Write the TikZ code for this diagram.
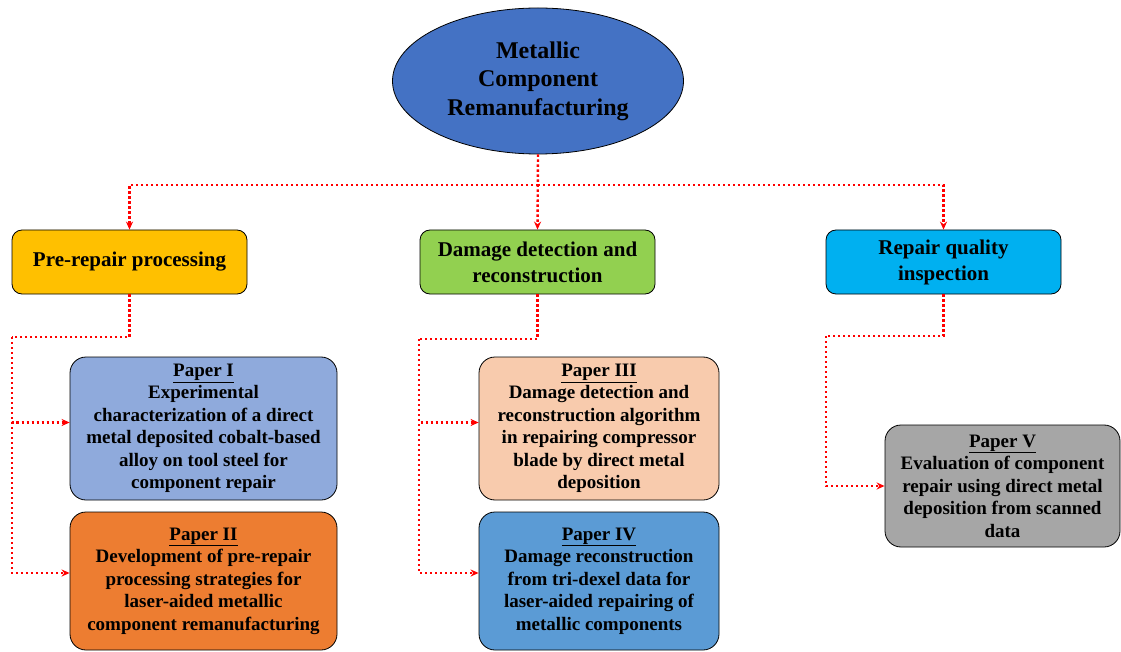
\documentclass[tikz,border=0pt]{standalone}
\usepackage{fontspec}
\setmainfont{Liberation Serif}[BoldFont={Liberation Serif Bold}]
\usepackage{tikz}
\usetikzlibrary{arrows.meta,shapes.geometric}

\definecolor{rootblue}{HTML}{4472C4}
\definecolor{preyellow}{HTML}{FFC000}
\definecolor{dmggreen}{HTML}{92D050}
\definecolor{rqicyan}{HTML}{00B0F0}
\definecolor{paperone}{HTML}{8FAADC}
\definecolor{papertwo}{HTML}{ED7D31}
\definecolor{paperthree}{HTML}{F8CBAD}
\definecolor{paperfour}{HTML}{5B9BD5}
\definecolor{paperfive}{HTML}{A6A6A6}

\begin{document}
\begin{tikzpicture}[
    x = 1pt, y = -1pt, % one unit is one pixel of the layout
    >= {Stealth[length=8pt,width=7pt]}, % arrow head style
    semithick % line style
  ]

  \tikzstyle{theme}=[
      draw = black,
      thick,
      rounded corners = 10pt,
      align = center,
      font = \bfseries\fontsize{21}{26}\selectfont
  ]
  \tikzstyle{paper}=[
      draw = black,
      thick,
      rounded corners = 16pt,
      align = center,
      font = \bfseries\fontsize{19}{22.5}\selectfont
  ]
  \tikzstyle{link}=[
      red,
      line width = 2.4pt,
      dash pattern = on 2.4pt off 2.6pt
  ]

  \useasboundingbox (0,0) rectangle (1121,652);

\node[ellipse,draw=black,thick,fill=rootblue,minimum width=291pt,minimum height=146pt,
      align=center,font=\bfseries\fontsize{24}{28.5}\selectfont] (root) at (538,81)
      {Metallic\\Component\\Remanufacturing};

\node[theme,fill=preyellow,minimum width=235pt,minimum height=64pt] (pre) at (129.5,262) {Pre-repair processing};
\node[theme,fill=dmggreen,minimum width=235pt,minimum height=64pt] (dmg) at (537.5,262) {Damage detection and\\reconstruction};
\node[theme,fill=rqicyan,minimum width=235pt,minimum height=64pt] (rqi) at (943.5,262) {Repair quality\\inspection};

\node[paper,fill=paperone,minimum width=267pt,minimum height=143pt] (p1) at (203.5,428.5)
  {\underline{Paper I}\\Experimental\\characterization of a direct\\metal deposited cobalt-based\\alloy on tool steel for\\component repair};
\node[paper,fill=papertwo,minimum width=267pt,minimum height=138pt] (p2) at (203.5,581)
  {\underline{Paper II}\\Development of pre-repair\\processing strategies for\\laser-aided metallic\\component remanufacturing};
\node[paper,fill=paperthree,minimum width=240pt,minimum height=143pt] (p3) at (599,428.5)
  {\underline{Paper III}\\Damage detection and\\reconstruction algorithm\\in repairing compressor\\blade by direct metal\\deposition};
\node[paper,fill=paperfour,minimum width=240pt,minimum height=138pt] (p4) at (599,581)
  {\underline{Paper IV}\\Damage reconstruction\\from tri-dexel data for\\laser-aided repairing of\\metallic components};
\node[paper,fill=paperfive,minimum width=235pt,minimum height=122pt] (p5) at (1002.5,486)
  {\underline{Paper V}\\Evaluation of component\\repair using direct metal\\deposition from scanned\\data};

% bus under the root
\coordinate (bus) at (538,185);
\draw[link,->] (root.south) -- (dmg.north);
\draw[link,->] (bus) -| (pre.north);
\draw[link,->] (bus) -| (rqi.north);

% left branch
\coordinate (ltrunk) at (12,337);
\draw[link] (pre.south) |- (ltrunk);
\draw[link,->] (ltrunk) |- ([yshift=6pt]p1.west);
\draw[link,->] (ltrunk) |- ([yshift=8pt]p2.west);

% middle branch
\coordinate (mtrunk) at (419,339);
\draw[link] (dmg.south) |- (mtrunk);
\draw[link,->] (mtrunk) |- ([yshift=6pt]p3.west);
\draw[link,->] (mtrunk) |- ([yshift=8pt]p4.west);

% right branch
\coordinate (rtrunk) at (826,336);
\draw[link] (rqi.south) |- (rtrunk);
\draw[link,->] (rtrunk) |- (p5.west);
\end{tikzpicture}
\end{document}
